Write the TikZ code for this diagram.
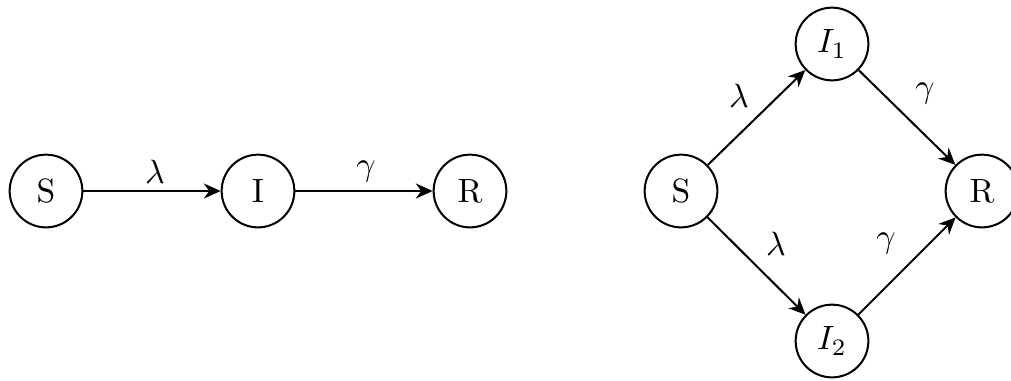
\documentclass[tikz,border=0pt]{standalone}
\usetikzlibrary{arrows.meta}
\begin{document}
\begin{tikzpicture}[x=0.297pt,y=-0.297pt,
  state/.style={circle,draw,semithick,minimum size=21.6pt,inner sep=0pt},
  flow/.style={-{Stealth[length=5pt,width=4.5pt]},semithick},
  lab/.style={inner sep=0pt}]
\useasboundingbox (0,0) rectangle (1011,380);
\begin{scope}
\clip (0,0) rectangle (1011,380);
\node[state] (S) at (46,191) {S};
\node[state] (I) at (258,191) {I};
\node[state] (R) at (470,191) {R};
\draw[flow] (S) -- (I);
\draw[flow] (I) -- (R);
\node[lab] (l1) at (155,172) {$\lambda$};
\node[lab] (g1) at (366,172) {$\gamma$};

\node[state] (S2) at (681,191) {S};
\node[state] (I1) at (832,44) {$I_1$};
\node[state] (I2) at (832,341) {$I_2$};
\node[state] (R2) at (982,191) {R};
\draw[flow] (S2) -- (I1);
\draw[flow] (I1) -- (R2);
\draw[flow] (S2) -- (I2);
\draw[flow] (I2) -- (R2);
\node[lab] (l2) at (739,96) {$\lambda$};
\node[lab] (g2) at (925,94) {$\gamma$};
\node[lab] (l3) at (776,244) {$\lambda$};
\node[lab] (g3) at (886,244) {$\gamma$};
\end{scope}
\end{tikzpicture}
\end{document}
